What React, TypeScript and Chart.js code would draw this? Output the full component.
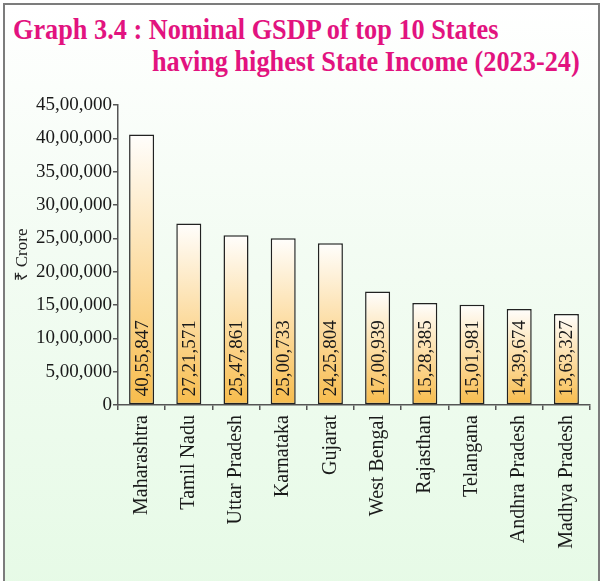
import React, { useEffect, useRef } from "react";
import { Chart, registerables } from "chart.js";

Chart.register(...registerables);

const states = [
  "Maharashtra",
  "Tamil Nadu",
  "Uttar Pradesh",
  "Karnataka",
  "Gujarat",
  "West Bengal",
  "Rajasthan",
  "Telangana",
  "Andhra Pradesh",
  "Madhya Pradesh",
];

const gsdp = [4055847, 2721571, 2547861, 2500733, 2425804, 1700939, 1528385, 1501981, 1439674, 1363327];

const yTickValues = [0, 500000, 1000000, 1500000, 2000000, 2500000, 3000000, 3500000, 4000000, 4500000];

const titleLine1 = "Graph 3.4 : Nominal GSDP of top 10 States";
const titleLine2 = "having highest State Income (2023-24)";
const yAxisTitle = "₹ Crore";

const FONT = "'Liberation Serif', 'Times New Roman', serif";

function formatIndian(n: number): string {
  const s = Math.round(n).toString();
  if (s.length <= 3) return s;
  const last3 = s.slice(-3);
  let rest = s.slice(0, -3);
  const parts: string[] = [];
  while (rest.length > 2) {
    parts.unshift(rest.slice(-2));
    rest = rest.slice(0, -2);
  }
  if (rest.length) parts.unshift(rest);
  return parts.join(",") + "," + last3;
}

const barLabelPlugin = {
  id: "barLabels",
  afterDatasetsDraw(chart: any) {
    const ctx = chart.ctx;
    const meta = chart.getDatasetMeta(0);
    ctx.save();
    ctx.font = `19px ${FONT}`;
    ctx.fillStyle = "#1a1a1a";
    ctx.textAlign = "left";
    ctx.textBaseline = "middle";
    meta.data.forEach((bar: any, i: number) => {
      ctx.save();
      ctx.translate(bar.x, bar.base - 8);
      ctx.rotate(-Math.PI / 2);
      ctx.fillText(formatIndian(gsdp[i]), 0, 1);
      ctx.restore();
    });
    ctx.restore();
  },
};

export default function App() {
  const canvasRef = useRef<HTMLCanvasElement | null>(null);

  useEffect(() => {
    if (!canvasRef.current) return;
    const chart = new Chart(canvasRef.current, {
      type: "bar",
      data: {
        labels: states,
        datasets: [
          {
            data: gsdp,
            backgroundColor: (context: any) => {
              const chart = context.chart;
              const yScale = chart.scales?.y;
              if (!yScale || context.type !== "data") return "#f8c45a";
              const v = context.raw as number;
              const top = yScale.getPixelForValue(v);
              const bottom = yScale.getPixelForValue(0);
              if (!isFinite(top) || !isFinite(bottom) || top === bottom) return "#f8c45a";
              const g = chart.ctx.createLinearGradient(0, bottom, 0, top);
              g.addColorStop(0, "#f7bc4c");
              g.addColorStop(0.45, "#fcda9c");
              g.addColorStop(1, "#fffefc");
              return g;
            },
            borderColor: "#222222",
            borderWidth: 1.5,
            borderSkipped: false,
            categoryPercentage: 1,
            barPercentage: 0.53,
          },
        ],
      },
      options: {
        animation: false,
        responsive: false,
        maintainAspectRatio: false,
        layout: { padding: { left: 8, top: 105, right: 15, bottom: 0 } },
        plugins: {
          legend: { display: false },
          tooltip: { enabled: false },
          title: { display: false },
        },
        scales: {
          x: {
            afterFit: (scale: any) => {
              scale.height = 176;
            },
            grid: {
              drawOnChartArea: false,
              drawTicks: true,
              tickLength: 5,
              color: "#555555",
              lineWidth: 1.5,
            },
            border: { display: true, color: "#555555", width: 1.5 },
            ticks: {
              minRotation: 90,
              maxRotation: 90,
              autoSkip: false,
              padding: 5,
              color: "#1a1a1a",
              font: { family: FONT, size: 20 },
            },
          },
          y: {
            min: 0,
            max: 4500000,
            afterFit: (scale: any) => {
              scale.width = 110;
            },
            afterBuildTicks: (scale: any) => {
              scale.ticks = yTickValues.map((v) => ({ value: v }));
            },
            grid: {
              drawOnChartArea: false,
              drawTicks: true,
              tickLength: 5,
              color: "#555555",
              lineWidth: 1.5,
            },
            border: { display: true, color: "#555555", width: 1.5 },
            ticks: {
              padding: 1,
              color: "#1a1a1a",
              font: { family: FONT, size: 19 },
              callback: (value: any) => formatIndian(Number(value)),
            },
            title: {
              display: true,
              text: yAxisTitle,
              color: "#222222",
              font: { family: FONT, size: 17 },
              padding: { top: 4, bottom: 0 },
            },
          },
        },
      },
      plugins: [barLabelPlugin],
    });
    return () => chart.destroy();
  }, []);

  const titleStyle: React.CSSProperties = {
    position: "absolute",
    margin: 0,
    fontFamily: FONT,
    fontWeight: "bold",
    fontSize: "29px",
    lineHeight: "34px",
    color: "#e2137f",
    whiteSpace: "nowrap",
    transform: "scaleX(0.906)",
    transformOrigin: "left top",
  };

  return (
    <div
      style={{
        position: "fixed",
        left: 0,
        top: 0,
        width: 605,
        height: 581,
        overflow: "hidden",
        background: "#ffffff",
      }}
    >
      <div
        style={{
          position: "absolute",
          left: 3,
          top: 3,
          width: 597,
          height: 620,
          boxSizing: "border-box",
          border: "2px solid #7c7c7c",
          background: "linear-gradient(to bottom, #ffffff 0%, #f3fcf3 40%, #e5fae5 100%)",
        }}
      />
      <div style={{ ...titleStyle, left: 13, top: 12 }}>{titleLine1}</div>
      <div style={{ ...titleStyle, left: 152, top: 44 }}>{titleLine2}</div>
      <canvas
        ref={canvasRef}
        width={605}
        height={581}
        style={{ position: "absolute", left: 0, top: 0, width: 605, height: 581 }}
      />
    </div>
  );
}
